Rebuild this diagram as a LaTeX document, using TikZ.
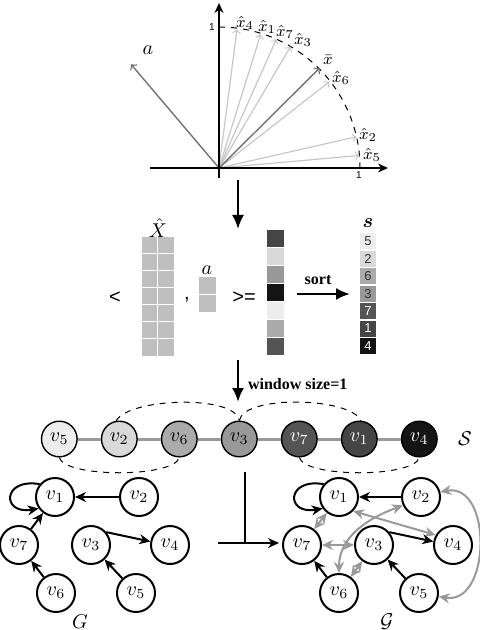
\documentclass[tikz,border=0pt]{standalone}
\usepackage[no-math]{fontspec}
\setmainfont{Liberation Serif}
\setsansfont{Liberation Sans}
\usepackage{amsmath,bm}
\usetikzlibrary{arrows,arrows.meta}

\definecolor{tone1}{gray}{0.27}
\definecolor{tone2}{gray}{0.85}
\definecolor{tone3}{gray}{0.60}
\definecolor{tone4}{gray}{0.08}
\definecolor{tone5}{gray}{0.93}
\definecolor{tone6}{gray}{0.67}
\definecolor{tone7}{gray}{0.33}
\definecolor{cellgray}{gray}{0.75}
\definecolor{simgray}{gray}{0.6}

\begin{document}
\begin{tikzpicture}[
		x=0.5pt, y=-0.5pt,
		>={Stealth[length=5.5pt,width=5pt]},
		axis/.style={-{Stealth[length=5pt,width=4.5pt]}, line width=0.7pt},
		vec/.style={-to, line width=0.6pt, black!22},
		mainvec/.style={-to, line width=0.7pt, black!55},
		flow/.style={-{Latex[length=7pt,width=6pt]}, line width=1.1pt},
		sym/.style={font=\sffamily},
		lbl/.style={font=\footnotesize, inner sep=0pt},
		scell/.style={minimum width=8.3pt, minimum height=8pt, inner sep=0pt, font=\sffamily\fontsize{6.5}{6.5}\selectfont},
		seqnode/.style={circle, draw, line width=0.7pt, minimum size=17.8pt, inner sep=0pt},
		chain/.style={line width=1.5pt, simgray},
		hop/.style={dashed, line width=0.5pt},
		vtx/.style={circle, draw, line width=1pt, minimum size=19pt, inner sep=0pt},
		edge/.style={->, line width=1pt},
		simedge/.style={<->, line width=1pt, simgray},
	]
	\useasboundingbox (0,0) rectangle (480,630);

	% ---------- top: unit vectors around the mean ----------
	\begin{scope}[shift={(219,168)}, y=0.5pt]
		\coordinate (o) at (0,0);
		\coordinate (axl) at (-69,0);
		\coordinate (axr) at (169,0);
		\coordinate (ayb) at (0,-10);
		\coordinate (ayt) at (0,165);
		\coordinate (t4) at (82.6:140);
		\coordinate (t1) at (72.7:140);
		\coordinate (t7) at (66:141);
		\coordinate (t3) at (59.5:141);
		\coordinate (t6) at (38:140);
		\coordinate (t2) at (12.8:141);
		\coordinate (t5) at (5.1:141);
		\coordinate (tbar) at (44.8:142);
		\coordinate (ta) at (130.3:136);
		\draw[dashed, line width=0.5pt] (0,141) arc[start angle=90, end angle=0, radius=141];
		\draw[vec] (o) -- (t4);
		\draw[vec] (o) -- (t1);
		\draw[vec] (o) -- (t7);
		\draw[vec] (o) -- (t3);
		\draw[vec] (o) -- (t6);
		\draw[vec] (o) -- (t2);
		\draw[vec] (o) -- (t5);
		\draw[mainvec] (o) -- (tbar);
		\draw[mainvec] (o) -- (ta);
		\draw[axis] (axl) -- (axr);
		\draw[axis] (ayb) -- (ayt);
		\node[font=\sffamily\tiny] (onex) at (140,-7) {1};
		\node[font=\sffamily\tiny] (oney) at (-7,141) {1};
		\node[lbl] (l4) at (26,145) {$\hat{x}_4$};
		\node[lbl] (l1) at (48,141) {$\hat{x}_1$};
		\node[lbl] (l7) at (66,136) {$\hat{x}_7$};
		\node[lbl] (l3) at (84,128) {$\hat{x}_3$};
		\node[lbl] (lbar) at (109,108) {$\bar{x}$};
		\node[lbl] (l6) at (122,90) {$\hat{x}_6$};
		\node[lbl] (l2) at (149,33) {$\hat{x}_2$};
		\node[lbl] (l5) at (153,13) {$\hat{x}_5$};
		\node (la) at (-71,118) {$a$};
	\end{scope}

	\coordinate (d1 top) at (238,180);
	\coordinate (d1 tip) at (238,229);
	\draw[flow] (d1 top) -- (d1 tip);

	% ---------- middle: scores and sorting ----------
	\node (Xhat) at (158,228) {$\hat{X}$};
	\fill[cellgray] (141.7,236.7) rectangle (174.1,355.7);
	\draw[white, line width=0.5pt]
		(157.9,236.7) -- (157.9,355.7)
		(141.7,253.7) -- (174.1,253.7)
		(141.7,270.7) -- (174.1,270.7)
		(141.7,287.7) -- (174.1,287.7)
		(141.7,304.7) -- (174.1,304.7)
		(141.7,321.7) -- (174.1,321.7)
		(141.7,338.7) -- (174.1,338.7);
	\node[sym] (lt) at (115,298) {<};
	\node[sym] (comma) at (187,300) {,};
	\node (avec) at (207,270) {$a$};
	\fill[cellgray] (199,277) rectangle ++(16.6,16.8);
	\fill[cellgray] (199,294.8) rectangle ++(16.6,16.8);
	\node[sym] (ge) at (244,298) {>=};

	\fill[tone1] (267,230.5) rectangle ++(16.6,16.9);
	\fill[tone2] (267,248.4) rectangle ++(16.6,16.9);
	\fill[tone3] (267,266.2) rectangle ++(16.6,16.9);
	\fill[tone4] (267,284.1) rectangle ++(16.6,16.9);
	\fill[tone5] (267,301.9) rectangle ++(16.6,16.9);
	\fill[tone6] (267,319.8) rectangle ++(16.6,16.9);
	\fill[tone7] (267,337.7) rectangle ++(16.6,16.9);

	\node[font=\footnotesize\bfseries] (sortlbl) at (318,280) {sort};
	\coordinate (sort tail) at (297,294);
	\coordinate (sort tip) at (350,294);
	\draw[flow] (sort tail) -- (sort tip);

	\node (slbl) at (368,223) {$\bm{s}$};
	\node[scell, fill=tone5, text=black!80] (s5) at (368,241.5) {5};
	\node[scell, fill=tone2, text=black!80] (s2) at (368,258.9) {2};
	\node[scell, fill=tone6, text=black!80] (s6) at (368,276.3) {6};
	\node[scell, fill=tone3, text=black!80] (s3) at (368,293.7) {3};
	\node[scell, fill=tone7, text=white] (s7) at (368,311.1) {7};
	\node[scell, fill=tone1, text=white] (s1) at (368,328.5) {1};
	\node[scell, fill=tone4, text=white] (s4) at (368,345.9) {4};

	\coordinate (d2 top) at (238,360);
	\coordinate (d2 tip) at (238,402);
	\draw[flow] (d2 top) -- (d2 tip);
	\node[font=\footnotesize\bfseries, anchor=west] (win) at (241,384) {window size=1};

	% ---------- sequence S ----------
	\node[seqnode, fill=tone5] (q5) at (59.3,439) {$v_5$};
	\node[seqnode, fill=tone2] (q2) at (119.3,439) {$v_2$};
	\node[seqnode, fill=tone6] (q6) at (179.3,439) {$v_6$};
	\node[seqnode, fill=tone3] (q3) at (239.3,439) {$v_3$};
	\node[seqnode, fill=tone7, text=white] (q7) at (299.3,439) {$v_7$};
	\node[seqnode, fill=tone1, text=white] (q1) at (359.3,439) {$v_1$};
	\node[seqnode, fill=tone4, text=white] (q4) at (419.3,439) {$v_4$};
	\node (Slbl) at (465,439) {$\mathcal{S}$};
	\draw[chain] (q5) -- (q2) -- (q6) -- (q3) -- (q7) -- (q1) -- (q4);
	\draw[hop] (q2.100) to[out=60, in=100, looseness=0.55] (q3.north);
	\draw[hop] (q3.north) to[out=80, in=115, looseness=0.55] (q1.85);
	\draw[hop] (q5.270) to[out=-75, in=-105, looseness=0.45] (q6.270);
	\draw[hop] (q7.270) to[out=-75, in=-105, looseness=0.45] (q4.270);

	% ---------- bottom left: graph G ----------
	\node[vtx] (g1) at (55,497) {$v_1$};
	\node[vtx] (g2) at (139,497) {$v_2$};
	\node[vtx] (g7) at (19,545) {$v_7$};
	\node[vtx] (g3) at (91,545) {$v_3$};
	\node[vtx] (g4) at (170,545) {$v_4$};
	\node[vtx] (g6) at (56,593) {$v_6$};
	\node[vtx] (g5) at (136,593) {$v_5$};
	\node[inner sep=1pt] (Glbl) at (80,622) {$G$};
	\draw[edge] (g2) -- (g1);
	\draw[edge] (g1.140) to[out=170, in=190, looseness=4] (g1.215);
	\draw[edge] (g7) -- (g1);
	\draw[edge] (g6) -- (g7);
	\draw[edge] (g3.40) -- (g4.170);
	\draw[edge] (g5) -- (g3);

	% ---------- map ----------
	\coordinate (m top) at (245,472);
	\coordinate (m foot) at (245,543);
	\coordinate (m tail) at (218,543);
	\coordinate (m tip) at (279,543);
	\draw[line width=1pt] (m top) -- (m foot);
	\draw[edge] (m tail) -- (m tip);

	% ---------- bottom right: augmented graph ----------
	\node[vtx] (h1) at (339,497) {$v_1$};
	\node[vtx] (h2) at (421,497) {$v_2$};
	\node[vtx] (h7) at (302,545) {$v_7$};
	\node[vtx] (h3) at (374,545) {$v_3$};
	\node[vtx] (h4) at (453,545) {$v_4$};
	\node[vtx] (h6) at (339,593) {$v_6$};
	\node[vtx] (h5) at (419,593) {$v_5$};
	\node[inner sep=1pt] (Gcal) at (387,622) {$\mathcal{G}$};
	\draw[simedge] (h1.-45) -- (h4.150);
	\draw[simedge] (h2.205) to[out=200, in=90] (h6.north);
	\draw[simedge] (h2.15) to[out=10, in=-10, looseness=1.3] (h5.-10);
	\draw[simedge] (h7) -- (h3);
	\draw[simedge] (h3) -- (h6);
	\draw[simedge] (h7) -- (h1);
	\draw[edge] (h2) -- (h1);
	\draw[edge] (h1.140) to[out=170, in=190, looseness=4] (h1.215);
	\draw[edge] (h6) -- (h7);
	\draw[edge] (h3.40) -- (h4.170);
	\draw[edge] (h5) -- (h3);

\end{tikzpicture}
\end{document}
